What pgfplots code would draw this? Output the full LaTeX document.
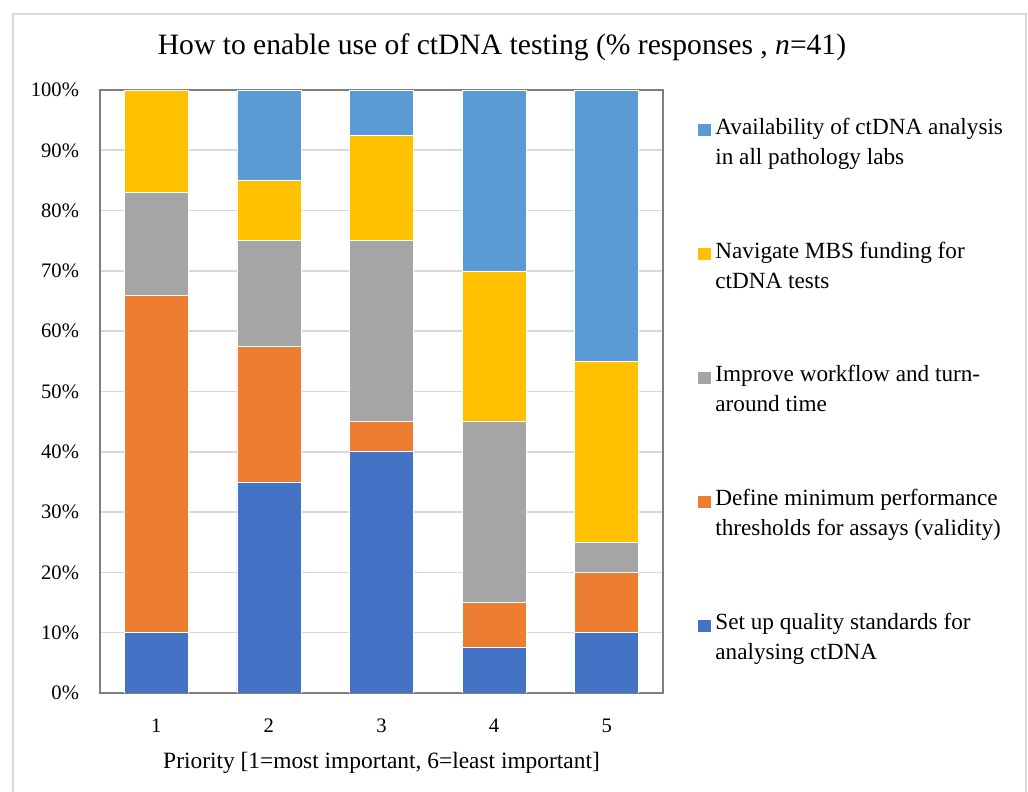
\documentclass[border=0pt]{standalone}
\usepackage{pgfplots}
\pgfplotsset{compat=1.18}
\usepackage{fontspec}
\setmainfont{Liberation Serif}
\definecolor{cBlue}{HTML}{4472C4}
\definecolor{cOrange}{HTML}{ED7D31}
\definecolor{cGray}{HTML}{A5A5A5}
\definecolor{cYellow}{HTML}{FFC000}
\definecolor{cLight}{HTML}{5B9BD5}
\definecolor{frameC}{HTML}{D9D9D9}
\definecolor{gridC}{HTML}{D9D9D9}
\definecolor{axC}{HTML}{7F7F7F}
\begin{document}
\begin{tikzpicture}[x=1pt,y=1pt]
\begin{axis}[
  at={(50pt,49.5pt)}, anchor=south west,
  scale only axis, width=281.5pt, height=301.5pt,
  ybar stacked, bar width=32pt,
  xmin=0.5, xmax=5.5, ymin=0, ymax=100,
  xtick={1,2,3,4,5}, ytick={0,10,...,100},
  ymajorgrids, major grid style={gridC, line width=0.8pt},
  axis line style={axC, line width=0.8pt},
  major tick length=0pt,
  /pgf/number format/assume math mode=true,
  yticklabel={\pgfmathprintnumber{\tick}\%},
  ticklabel style={font=\fontsize{10.3}{12}\selectfont},
  yticklabel style={xshift=-7pt},
  xticklabel style={yshift=-9.5pt},
  xlabel={Priority [1=most important, 6=least important]},
  xlabel style={font=\fontsize{11.7}{13}\selectfont, yshift=-3pt},
  every axis plot/.append style={draw=white, line width=0.3pt},
  reverse legend,
  legend cell align=left,
  legend style={draw=none, fill=none, at={(1.0622,0.9686)}, anchor=north west,
    inner sep=0pt, row sep=30.9pt,
    font=\fontsize{11.6}{15}\selectfont,
    cells={align=left, inner xsep=3pt, inner ysep=0pt}},
  legend image code/.code={\fill[#1, draw=none] (0pt,2pt) rectangle (6.5pt,8pt);},
]
\addplot[fill=cBlue] coordinates {(1,10) (2,35) (3,40) (4,7.5) (5,10)};
\addlegendentry{\strut Set up quality standards for\\analysing ctDNA\strut}
\addplot[fill=cOrange] coordinates {(1,56) (2,22.5) (3,5) (4,7.5) (5,10)};
\addlegendentry{\strut Define minimum performance\\thresholds for assays (validity)\strut}
\addplot[fill=cGray] coordinates {(1,17) (2,17.5) (3,30) (4,30) (5,5)};
\addlegendentry{\strut Improve workflow and turn-\\around time\strut}
\addplot[fill=cYellow] coordinates {(1,17) (2,10) (3,17.5) (4,25) (5,30)};
\addlegendentry{\strut Navigate MBS funding for\\ctDNA tests\strut}
\addplot[fill=cLight] coordinates {(1,0) (2,15) (3,7.5) (4,30) (5,45)};
\addlegendentry{\strut Availability of ctDNA analysis\\in all pathology labs\strut}
\end{axis}
\node[font=\fontsize{14.8}{17}\selectfont] at (251,372.5) {How to enable use of ctDNA testing (\% responses , \textit{n}=41)};
\draw[frameC, line width=1pt] (6.5,0) -- (6.5,389) -- (512.8,389) -- (512.8,0);
\pgfresetboundingbox
\path (0,0) rectangle (514,396);
\end{tikzpicture}
\end{document}
